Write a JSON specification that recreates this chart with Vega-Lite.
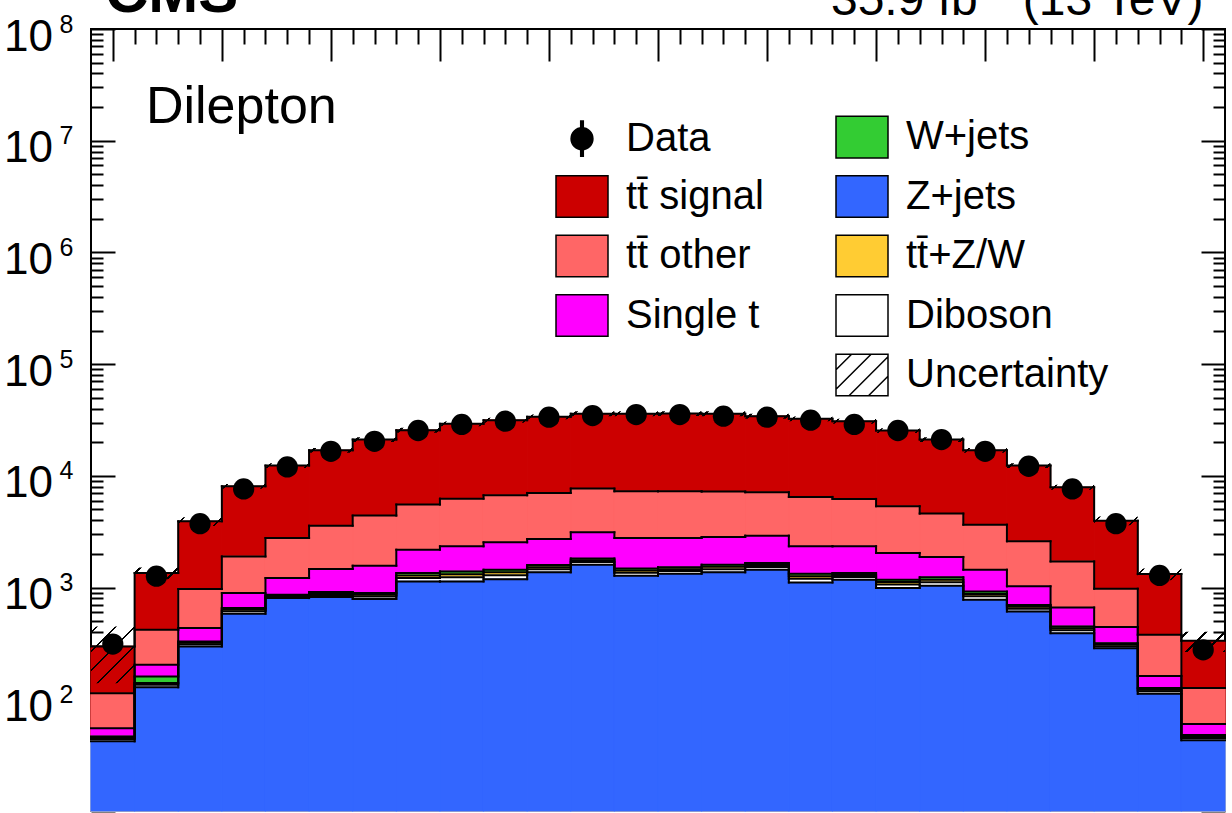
{
  "$schema": "https://vega.github.io/schema/vega-lite/v6.json",
  "width": 1134,
  "height": 782,
  "autosize": {"type": "none"},
  "padding": {"left": 91, "top": 29, "right": 7, "bottom": 2},
  "background": "white",
  "config": {"view": {"stroke": "black", "strokeWidth": 2}},
  "datasets": {
    "bins": [
      {"lo":-2.6,"hi":-2.4,"c":-2.5,"Z+jets":42,"Diboson":2,"tt\u0304+Z/W":1,"W+jets":1.5,"Single t":8.5,"tt\u0304 other":58,"tt\u0304 signal":184,"data":312,"ulo":139,"uhi":449},
      {"lo":-2.4,"hi":-2.2,"c":-2.3,"Z+jets":128,"Diboson":7,"tt\u0304+Z/W":5,"W+jets":20,"Single t":44,"tt\u0304 other":215,"tt\u0304 signal":930,"data":1265,"ulo":1187,"uhi":1511},
      {"lo":-2.2,"hi":-2.0,"c":-2.1,"Z+jets":297,"Diboson":14,"tt\u0304+Z/W":9,"W+jets":9,"Single t":105,"tt\u0304 other":536,"tt\u0304 signal":2948,"data":3733,"ulo":3565,"uhi":4271},
      {"lo":-2.0,"hi":-1.8,"c":-1.9,"Z+jets":583,"Diboson":30,"tt\u0304+Z/W":22,"W+jets":21,"Single t":237,"tt\u0304 other":1008,"tt\u0304 signal":6166,"data":7640,"ulo":7664,"uhi":8470},
      {"lo":-1.8,"hi":-1.6,"c":-1.7,"Z+jets":805,"Diboson":24,"tt\u0304+Z/W":17,"W+jets":17,"Single t":354,"tt\u0304 other":1562,"tt\u0304 signal":9581,"data":12020,"ulo":11742,"uhi":12978},
      {"lo":-1.6,"hi":-1.4,"c":-1.5,"Z+jets":822,"Diboson":36,"tt\u0304+Z/W":27,"W+jets":27,"Single t":554,"tt\u0304 other":2114,"tt\u0304 signal":13360,"data":16600,"ulo":16093,"uhi":17787},
      {"lo":-1.4,"hi":-1.2,"c":-1.3,"Z+jets":790,"Diboson":41,"tt\u0304+Z/W":31,"W+jets":31,"Single t":677,"tt\u0304 other":2836,"tt\u0304 signal":16724,"data":20400,"ulo":20074,"uhi":22187},
      {"lo":-1.2,"hi":-1.0,"c":-1.1,"Z+jets":1135,"Diboson":85,"tt\u0304+Z/W":65,"W+jets":64,"Single t":834,"tt\u0304 other":3352,"tt\u0304 signal":20095,"data":25470,"ulo":24349,"uhi":26912},
      {"lo":-1.0,"hi":-0.8,"c":-0.9,"Z+jets":1135,"Diboson":104,"tt\u0304+Z/W":78,"W+jets":79,"Single t":944,"tt\u0304 other":3912,"tt\u0304 signal":22988,"data":28840,"ulo":27778,"uhi":30702},
      {"lo":-0.8,"hi":-0.6,"c":-0.7,"Z+jets":1190,"Diboson":102,"tt\u0304+Z/W":77,"W+jets":76,"Single t":1095,"tt\u0304 other":4160,"tt\u0304 signal":24800,"data":30830,"ulo":29925,"uhi":33075},
      {"lo":-0.6,"hi":-0.4,"c":-0.5,"Z+jets":1368,"Diboson":89,"tt\u0304+Z/W":67,"W+jets":66,"Single t":1132,"tt\u0304 other":4314,"tt\u0304 signal":26764,"data":33500,"ulo":32110,"uhi":35490},
      {"lo":-0.4,"hi":-0.2,"c":-0.3,"Z+jets":1603,"Diboson":87,"tt\u0304+Z/W":65,"W+jets":65,"Single t":1302,"tt\u0304 other":4568,"tt\u0304 signal":28290,"data":34670,"ulo":34181,"uhi":37779},
      {"lo":-0.2,"hi":0,"c":-0.1,"Z+jets":1276,"Diboson":82,"tt\u0304+Z/W":61,"W+jets":61,"Single t":1299,"tt\u0304 other":4495,"tt\u0304 signal":28706,"data":35380,"ulo":34181,"uhi":37779},
      {"lo":0,"hi":0.2,"c":0.1,"Z+jets":1331,"Diboson":74,"tt\u0304+Z/W":56,"W+jets":56,"Single t":1262,"tt\u0304 other":4495,"tt\u0304 signal":28876,"data":35380,"ulo":34343,"uhi":37958},
      {"lo":0.2,"hi":0.4,"c":0.3,"Z+jets":1368,"Diboson":94,"tt\u0304+Z/W":71,"W+jets":70,"Single t":1234,"tt\u0304 other":4393,"tt\u0304 signal":28750,"data":34200,"ulo":34181,"uhi":37779},
      {"lo":0.4,"hi":0.6,"c":0.5,"Z+jets":1445,"Diboson":86,"tt\u0304+Z/W":65,"W+jets":64,"Single t":1257,"tt\u0304 other":4213,"tt\u0304 signal":27070,"data":33500,"ulo":32490,"uhi":35910},
      {"lo":0.6,"hi":0.8,"c":0.7,"Z+jets":1110,"Diboson":88,"tt\u0304+Z/W":66,"W+jets":66,"Single t":1010,"tt\u0304 other":4144,"tt\u0304 signal":25946,"data":31500,"ulo":30809,"uhi":34052},
      {"lo":0.8,"hi":1.0,"c":0.9,"Z+jets":1175,"Diboson":70,"tt\u0304+Z/W":52,"W+jets":52,"Single t":991,"tt\u0304 other":3880,"tt\u0304 signal":24610,"data":28840,"ulo":29289,"uhi":32372},
      {"lo":1.0,"hi":1.2,"c":1.1,"Z+jets":991,"Diboson":74,"tt\u0304+Z/W":55,"W+jets":55,"Single t":867,"tt\u0304 other":3304,"tt\u0304 signal":20124,"data":25470,"ulo":24197,"uhi":26744},
      {"lo":1.2,"hi":1.4,"c":1.3,"Z+jets":1040,"Diboson":78,"tt\u0304+Z/W":59,"W+jets":58,"Single t":645,"tt\u0304 other":2712,"tt\u0304 signal":16538,"data":21130,"ulo":20074,"uhi":22187},
      {"lo":1.4,"hi":1.6,"c":1.5,"Z+jets":778,"Diboson":57,"tt\u0304+Z/W":43,"W+jets":42,"Single t":525,"tt\u0304 other":2212,"tt\u0304 signal":13283,"data":16600,"ulo":16093,"uhi":17787},
      {"lo":1.6,"hi":1.8,"c":1.7,"Z+jets":611,"Diboson":36,"tt\u0304+Z/W":27,"W+jets":26,"Single t":325,"tt\u0304 other":1569,"tt\u0304 signal":9766,"data":12190,"ulo":11742,"uhi":12978},
      {"lo":1.8,"hi":2.0,"c":1.9,"Z+jets":391,"Diboson":23,"tt\u0304+Z/W":18,"W+jets":17,"Single t":214,"tt\u0304 other":1052,"tt\u0304 signal":6195,"data":7640,"ulo":7515,"uhi":8306},
      {"lo":2.0,"hi":2.2,"c":2.1,"Z+jets":287,"Diboson":12,"tt\u0304+Z/W":10,"W+jets":9,"Single t":125,"tt\u0304 other":534,"tt\u0304 signal":2993,"data":3733,"ulo":3613,"uhi":4327},
      {"lo":2.2,"hi":2.4,"c":2.3,"Z+jets":112,"Diboson":6,"tt\u0304+Z/W":4,"W+jets":4,"Single t":36,"tt\u0304 other":216,"tt\u0304 signal":946,"data":1285,"ulo":1165,"uhi":1483},
      {"lo":2.4,"hi":2.6,"c":2.5,"Z+jets":43,"Diboson":2,"tt\u0304+Z/W":1.5,"W+jets":1.5,"Single t":12,"tt\u0304 other":66,"tt\u0304 signal":208,"data":277,"ulo":265,"uhi":402}
    ]
  },
  "layer": [
    {
      "data": {"name": "bins"},
      "transform": [
        {"fold": ["Z+jets","Diboson","tt\u0304+Z/W","W+jets","Single t","tt\u0304 other","tt\u0304 signal"], "as": ["proc","v"]},
        {"window": [{"op": "row_number", "as": "rk"}], "groupby": ["lo"]},
        {"stack": "v", "groupby": ["lo"], "as": ["v0","v1"]}
      ],
      "mark": {"type": "rect", "strokeWidth": 1.2, "stroke": {"expr": "scale('color', datum.proc)"}},
      "encoding": {
        "x": {"field": "lo", "type": "quantitative", "scale": {"domain": [-2.6, 2.6], "nice": false, "zero": false},
          "axis": {"orient": "top", "values": [-2.5,-2,-1.5,-1,-0.5,0,0.5,1,1.5,2,2.5],
            "labels": false, "domain": false, "grid": false, "ticks": true, "tickSize": -32, "tickColor": "black", "tickWidth": 2, "title": null}},
        "x2": {"field": "hi"},
        "y": {"field": "v1", "type": "quantitative", "scale": {"type": "log", "domain": [10, 100000000], "nice": false},
          "axis": {"orient": "left", "values": [10,100,1000,10000,100000,1000000,10000000,100000000],
            "labelExpr": "datum.value >= 99 ? '10' : ''",
            "labelFont": "Liberation Sans", "labelFontSize": 44, "labelColor": "black", "labelAlign": "right", "labelBaseline": "alphabetic",
            "labelOffset": 21, "labelPadding": 62.5, "labelOverlap": false, "labelFlush": false, "labelBound": false,
            "domain": false, "grid": false, "ticks": true, "tickSize": -24, "tickColor": "black", "tickWidth": 2, "title": null}},
        "y2": {"datum": 10},
        "color": {"field": "proc", "type": "nominal",
          "scale": {"domain": ["Data","tt\u0304 signal","tt\u0304 other","Single t"," ","W+jets","Z+jets","tt\u0304+Z/W","Diboson","Uncertainty"],
                    "range": ["#000000","#cc0000","#ff6666","#ff00ff","#ffffff","#33cc33","#3366ff","#ffcc33","#ffffff","#ffffff"]},
          "legend": {"orient": "none", "legendX": 464, "legendY": 81, "columns": 2, "columnPadding": 69, "rowPadding": 8.5,
            "title": null, "padding": 0, "symbolSize": 2704, "symbolType": "M-1,-0.8H1V0.8H-1Z", "symbolStrokeColor": "black", "symbolStrokeWidth": 1.5, "symbolOpacity": 1,
            "labelFont": "Liberation Sans", "labelFontSize": 40, "labelColor": "black", "labelOffset": 17, "labelLimit": 400, "labelBaseline": "middle",
            "encode": {"symbols": {"update": {
              "shape": {"signal": "datum.value === 'Data' ? 'M-0.42,0A0.42,0.42,0,1,1,0.42,0A0.42,0.42,0,1,1,-0.42,0ZM-0.05,-0.68H0.05V0.68H-0.05Z' : datum.value === 'Uncertainty' ? 'M-1,-0.8H1V0.8H-1ZM-1,-0.2L-0.4,-0.8M-1,0.55L0.35,-0.8M-0.5,0.8L1,-0.7M0.25,0.8L1,0.05' : datum.value === ' ' ? 'M0,0Z' : 'M-1,-0.8H1V0.8H-1Z'"}
            }}}}},
        "order": {"field": "rk", "type": "quantitative", "sort": "descending"}
      }
    },
    {
      "data": {"name": "bins"},
      "transform": [
        {"fold": ["Z+jets","Diboson","tt\u0304+Z/W","W+jets","Single t","tt\u0304 other","tt\u0304 signal"], "as": ["proc","v"]},
        {"stack": "v", "groupby": ["lo"], "as": ["v0","v1"]}
      ],
      "mark": {"type": "rule", "color": "black", "strokeWidth": 2, "strokeCap": "square"},
      "encoding": {
        "x": {"field": "lo", "type": "quantitative",
          "axis": {"orient": "top", "values": [-2.4,-2.3,-2.2,-2.1,-1.9,-1.8,-1.7,-1.6,-1.4,-1.3,-1.2,-1.1,-0.9,-0.8,-0.7,-0.6,-0.4,-0.3,-0.2,-0.1,0.1,0.2,0.3,0.4,0.6,0.7,0.8,0.9,1.1,1.2,1.3,1.4,1.6,1.7,1.8,1.9,2.1,2.2,2.3,2.4],
            "labels": false, "domain": false, "grid": false, "ticks": true, "tickSize": -15, "tickColor": "black", "tickWidth": 2, "title": null}},
        "x2": {"field": "hi"},
        "y": {"field": "v1", "type": "quantitative",
          "axis": {"orient": "left", "values": [100,1000,10000,100000,1000000,10000000,100000000],
            "labelExpr": "''+round(log(datum.value)/LN10)",
            "labelFont": "Liberation Sans", "labelFontSize": 25, "labelColor": "black", "labelAlign": "left", "labelBaseline": "alphabetic",
            "labelOffset": 3, "labelPadding": 32, "labelOverlap": false, "labelFlush": false, "labelBound": false,
            "domain": false, "grid": false, "ticks": false, "title": null}}
      }
    },
    {
      "data": {"name": "bins"},
      "transform": [
        {"fold": ["Z+jets","Diboson","tt\u0304+Z/W","W+jets","Single t","tt\u0304 other","tt\u0304 signal"], "as": ["proc","v"]},
        {"stack": "v", "groupby": ["lo"], "as": ["v0","v1"]},
        {"window": [{"op": "lag", "field": "v1", "as": "pv"}], "groupby": ["proc"], "sort": [{"field": "lo"}]},
        {"filter": "datum.pv != null"}
      ],
      "mark": {"type": "rule", "color": "black", "strokeWidth": 2, "strokeCap": "square"},
      "encoding": {
        "x": {"field": "lo", "type": "quantitative", "axis": null},
        "y": {"field": "pv", "type": "quantitative",
          "axis": {"orient": "right", "values": [10,100,1000,10000,100000,1000000,10000000,100000000],
            "labels": false, "domain": false, "grid": false, "ticks": true, "tickSize": -24, "tickColor": "black", "tickWidth": 2, "title": null}},
        "y2": {"field": "v1"}
      }
    },
    {
      "data": {"name": "bins"},
      "mark": {"type": "rect", "stroke": null,
        "fill": {"expr": "{gradient:'linear',x1:0,y1:0,x2:(scale('x',datum.hi)-scale('x',datum.lo))*(scale('x',datum.hi)-scale('x',datum.lo)+scale('y',datum.ulo)-scale('y',datum.uhi))/(pow(scale('x',datum.hi)-scale('x',datum.lo),2)+pow(scale('y',datum.ulo)-scale('y',datum.uhi),2)),y2:(scale('y',datum.ulo)-scale('y',datum.uhi))*(scale('x',datum.hi)-scale('x',datum.lo)+scale('y',datum.ulo)-scale('y',datum.uhi))/(pow(scale('x',datum.hi)-scale('x',datum.lo),2)+pow(scale('y',datum.ulo)-scale('y',datum.uhi),2)),stops:[{offset:0,color:'rgba(0,0,0,0)'},{offset:clamp(4.8/(scale('x',datum.hi)-scale('x',datum.lo)+scale('y',datum.ulo)-scale('y',datum.uhi)),0,1),color:'rgba(0,0,0,0)'},{offset:clamp(4.8/(scale('x',datum.hi)-scale('x',datum.lo)+scale('y',datum.ulo)-scale('y',datum.uhi)),0,1),color:'#000'},{offset:clamp(7.2/(scale('x',datum.hi)-scale('x',datum.lo)+scale('y',datum.ulo)-scale('y',datum.uhi)),0,1),color:'#000'},{offset:clamp(7.2/(scale('x',datum.hi)-scale('x',datum.lo)+scale('y',datum.ulo)-scale('y',datum.uhi)),0,1),color:'rgba(0,0,0,0)'},{offset:clamp(23.8/(scale('x',datum.hi)-scale('x',datum.lo)+scale('y',datum.ulo)-scale('y',datum.uhi)),0,1),color:'rgba(0,0,0,0)'},{offset:clamp(23.8/(scale('x',datum.hi)-scale('x',datum.lo)+scale('y',datum.ulo)-scale('y',datum.uhi)),0,1),color:'#000'},{offset:clamp(26.2/(scale('x',datum.hi)-scale('x',datum.lo)+scale('y',datum.ulo)-scale('y',datum.uhi)),0,1),color:'#000'},{offset:clamp(26.2/(scale('x',datum.hi)-scale('x',datum.lo)+scale('y',datum.ulo)-scale('y',datum.uhi)),0,1),color:'rgba(0,0,0,0)'},{offset:clamp(42.8/(scale('x',datum.hi)-scale('x',datum.lo)+scale('y',datum.ulo)-scale('y',datum.uhi)),0,1),color:'rgba(0,0,0,0)'},{offset:clamp(42.8/(scale('x',datum.hi)-scale('x',datum.lo)+scale('y',datum.ulo)-scale('y',datum.uhi)),0,1),color:'#000'},{offset:clamp(45.2/(scale('x',datum.hi)-scale('x',datum.lo)+scale('y',datum.ulo)-scale('y',datum.uhi)),0,1),color:'#000'},{offset:clamp(45.2/(scale('x',datum.hi)-scale('x',datum.lo)+scale('y',datum.ulo)-scale('y',datum.uhi)),0,1),color:'rgba(0,0,0,0)'},{offset:clamp(61.8/(scale('x',datum.hi)-scale('x',datum.lo)+scale('y',datum.ulo)-scale('y',datum.uhi)),0,1),color:'rgba(0,0,0,0)'},{offset:clamp(61.8/(scale('x',datum.hi)-scale('x',datum.lo)+scale('y',datum.ulo)-scale('y',datum.uhi)),0,1),color:'#000'},{offset:clamp(64.2/(scale('x',datum.hi)-scale('x',datum.lo)+scale('y',datum.ulo)-scale('y',datum.uhi)),0,1),color:'#000'},{offset:clamp(64.2/(scale('x',datum.hi)-scale('x',datum.lo)+scale('y',datum.ulo)-scale('y',datum.uhi)),0,1),color:'rgba(0,0,0,0)'},{offset:clamp(80.8/(scale('x',datum.hi)-scale('x',datum.lo)+scale('y',datum.ulo)-scale('y',datum.uhi)),0,1),color:'rgba(0,0,0,0)'},{offset:clamp(80.8/(scale('x',datum.hi)-scale('x',datum.lo)+scale('y',datum.ulo)-scale('y',datum.uhi)),0,1),color:'#000'},{offset:clamp(83.2/(scale('x',datum.hi)-scale('x',datum.lo)+scale('y',datum.ulo)-scale('y',datum.uhi)),0,1),color:'#000'},{offset:clamp(83.2/(scale('x',datum.hi)-scale('x',datum.lo)+scale('y',datum.ulo)-scale('y',datum.uhi)),0,1),color:'rgba(0,0,0,0)'},{offset:clamp(99.8/(scale('x',datum.hi)-scale('x',datum.lo)+scale('y',datum.ulo)-scale('y',datum.uhi)),0,1),color:'rgba(0,0,0,0)'},{offset:clamp(99.8/(scale('x',datum.hi)-scale('x',datum.lo)+scale('y',datum.ulo)-scale('y',datum.uhi)),0,1),color:'#000'},{offset:clamp(102.2/(scale('x',datum.hi)-scale('x',datum.lo)+scale('y',datum.ulo)-scale('y',datum.uhi)),0,1),color:'#000'},{offset:clamp(102.2/(scale('x',datum.hi)-scale('x',datum.lo)+scale('y',datum.ulo)-scale('y',datum.uhi)),0,1),color:'rgba(0,0,0,0)'},{offset:1,color:'rgba(0,0,0,0)'}]}"}},
      "encoding": {
        "x": {"field": "lo", "type": "quantitative", "axis": null},
        "x2": {"field": "hi"},
        "y": {"field": "uhi", "type": "quantitative",
          "axis": {"orient": "left", "values": [20,30,40,50,60,70,80,90,200,300,400,500,600,700,800,900,2000,3000,4000,5000,6000,7000,8000,9000,20000,30000,40000,50000,60000,70000,80000,90000,200000,300000,400000,500000,600000,700000,800000,900000,2000000,3000000,4000000,5000000,6000000,7000000,8000000,9000000,20000000,30000000,40000000,50000000,60000000,70000000,80000000,90000000],
            "labels": false, "domain": false, "grid": false, "ticks": true, "tickSize": -12, "tickColor": "black", "tickWidth": 2, "title": null}},
        "y2": {"field": "ulo"}
      }
    },
    {
      "data": {"name": "bins"},
      "mark": {"type": "circle", "size": 452, "color": "black", "opacity": 1},
      "encoding": {
        "x": {"field": "c", "type": "quantitative", "axis": null},
        "y": {"field": "data", "type": "quantitative",
          "axis": {"orient": "right", "values": [20,30,40,50,60,70,80,90,200,300,400,500,600,700,800,900,2000,3000,4000,5000,6000,7000,8000,9000,20000,30000,40000,50000,60000,70000,80000,90000,200000,300000,400000,500000,600000,700000,800000,900000,2000000,3000000,4000000,5000000,6000000,7000000,8000000,9000000,20000000,30000000,40000000,50000000,60000000,70000000,80000000,90000000],
            "labels": false, "domain": false, "grid": false, "ticks": true, "tickSize": -12, "tickColor": "black", "tickWidth": 2, "title": null}}
      }
    },
    {
      "data": {"values": [{"t": "Dilepton"}]},
      "mark": {"type": "text", "font": "Liberation Sans", "fontSize": 52, "align": "left", "baseline": "alphabetic", "color": "black"},
      "encoding": {
        "x": {"datum": -2.348, "type": "quantitative", "axis": null},
        "y": {"datum": 14400000, "type": "quantitative", "axis": null},
        "text": {"field": "t"}
      }
    },
    {
      "data": {"values": [{"t": "CMS"}]},
      "mark": {"type": "text", "font": "Liberation Sans", "fontSize": 60, "fontWeight": "bold", "align": "left", "baseline": "alphabetic", "color": "black"},
      "encoding": {
        "x": {"datum": -2.536, "type": "quantitative", "axis": null},
        "y": {"datum": 141960000, "type": "quantitative", "axis": null},
        "text": {"field": "t"}
      }
    },
    {
      "data": {"values": [{"t": "35.9 fb"}]},
      "mark": {"type": "text", "font": "Liberation Sans", "fontSize": 48, "align": "left", "baseline": "alphabetic", "color": "black"},
      "encoding": {
        "x": {"datum": 0.793, "type": "quantitative", "axis": null},
        "y": {"datum": 133500000, "type": "quantitative", "axis": null},
        "text": {"field": "t"}
      }
    },
    {
      "data": {"values": [{"t": "\u22121"}]},
      "mark": {"type": "text", "font": "Liberation Sans", "fontSize": 28, "align": "left", "baseline": "alphabetic", "color": "black"},
      "encoding": {
        "x": {"datum": 1.472, "type": "quantitative", "axis": null},
        "y": {"datum": 195000000, "type": "quantitative", "axis": null},
        "text": {"field": "t"}
      }
    },
    {
      "data": {"values": [{"t": "(13 TeV)"}]},
      "mark": {"type": "text", "font": "Liberation Sans", "fontSize": 48, "align": "right", "baseline": "alphabetic", "color": "black"},
      "encoding": {
        "x": {"datum": 2.501, "type": "quantitative", "axis": null},
        "y": {"datum": 133500000, "type": "quantitative", "axis": null},
        "text": {"field": "t"}
      }
    }
  ],
  "resolve": {"axis": {"x": "independent", "y": "independent"}}
}
